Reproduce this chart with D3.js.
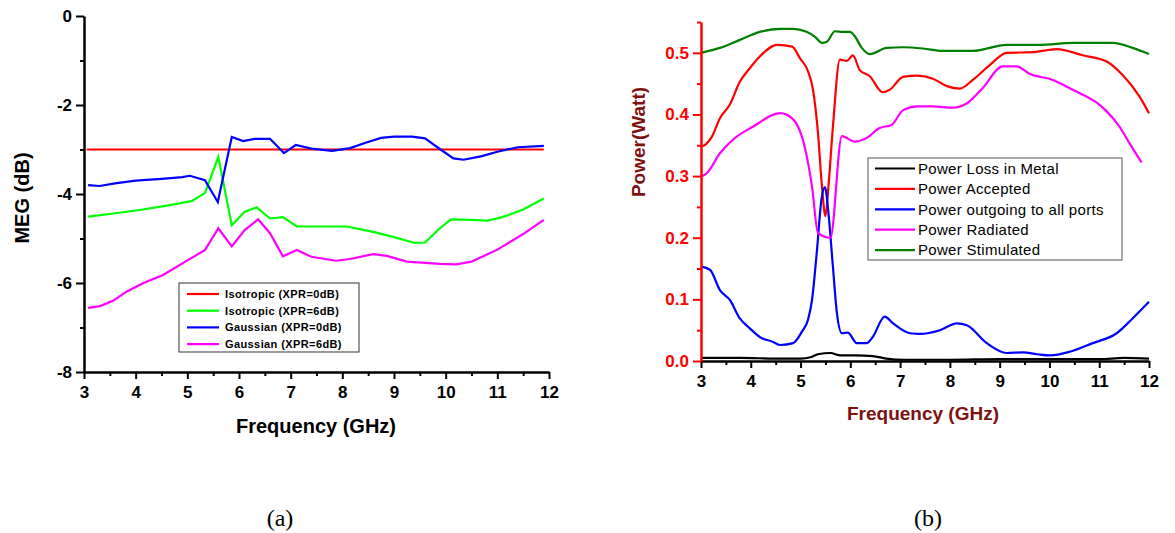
<!DOCTYPE html>
<html>
<head>
<meta charset="utf-8">
<script src="https://cdn.jsdelivr.net/npm/d3@7"></script>
<style>
  body { margin: 0; background: #fff; }
  svg { display: block; }
  text { font-family: "Liberation Sans", Arial, sans-serif; }
</style>
</head>
<body>
<svg width="1175" height="533"></svg>
<script>
// ---- panel (a): MEG ----
var freqIso0 = [3.05, 11.9];
var megIso0 = [-3, -3];

var freqIso6 = [3.08, 3.5, 4.08, 4.66, 5.08, 5.34, 5.6, 5.86, 6.11, 6.34, 6.6, 6.85, 7.12, 7.6, 8.08, 8.6, 9.0, 9.4, 9.6, 9.89, 10.1, 10.5, 10.8, 11.1, 11.5, 11.9];
var megIso6 = [-4.51, -4.45, -4.36, -4.25, -4.16, -3.98, -3.17, -4.7, -4.4, -4.3, -4.55, -4.52, -4.73, -4.73, -4.73, -4.85, -4.97, -5.1, -5.09, -4.77, -4.57, -4.58, -4.6, -4.52, -4.35, -4.1];

var freqGau0 = [3.08, 3.3, 3.6, 4.0, 4.5, 4.9, 5.05, 5.34, 5.59, 5.86, 6.08, 6.3, 6.6, 6.87, 7.1, 7.4, 7.8, 8.15, 8.45, 8.75, 9.0, 9.35, 9.6, 9.9, 10.15, 10.35, 10.7, 11.0, 11.4, 11.9];
var megGau0 = [-3.8, -3.82, -3.76, -3.7, -3.66, -3.62, -3.59, -3.69, -4.18, -2.72, -2.81, -2.76, -2.76, -3.08, -2.9, -2.98, -3.03, -2.97, -2.85, -2.74, -2.71, -2.71, -2.75, -3.0, -3.2, -3.23, -3.15, -3.05, -2.95, -2.92];

var freqGau6 = [3.08, 3.31, 3.56, 3.83, 4.15, 4.53, 4.96, 5.34, 5.6, 5.86, 6.11, 6.37, 6.6, 6.85, 7.12, 7.4, 7.88, 8.15, 8.6, 8.86, 9.25, 9.89, 10.2, 10.5, 11.0, 11.5, 11.9];
var megGau6 = [-6.56, -6.52, -6.4, -6.19, -6.0, -5.82, -5.52, -5.26, -4.77, -5.18, -4.81, -4.57, -4.88, -5.4, -5.26, -5.41, -5.5, -5.46, -5.35, -5.39, -5.52, -5.57, -5.58, -5.52, -5.25, -4.9, -4.58];

var legendA = ["Isotropic (XPR=0dB)", "Isotropic (XPR=6dB)", "Gaussian (XPR=0dB)", "Gaussian (XPR=6dB)"];
var colorsA = ["#ff0000", "#00ff00", "#0000ff", "#ff00ff"];
var yTicksA = [0, -2, -4, -6, -8];

// ---- panel (b): power ----
var freqLoss = [3.0, 3.8, 4.5, 5.0, 5.2, 5.35, 5.6, 5.8, 6.1, 6.45, 6.72, 7.1, 8.0, 9.0, 10.0, 11.0, 11.5, 12.0];
var powLoss = [0.005, 0.005, 0.004, 0.004, 0.006, 0.011, 0.013, 0.009, 0.009, 0.008, 0.004, 0.002, 0.002, 0.003, 0.003, 0.003, 0.005, 0.004];

var freqAcc = [3.0, 3.1, 3.22, 3.38, 3.58, 3.78, 3.98, 4.18, 4.53, 4.83, 4.99, 5.15, 5.25, 5.35, 5.43, 5.5, 5.56, 5.65, 5.79, 5.93, 6.05, 6.19, 6.39, 6.65, 6.79, 7.06, 7.34, 7.66, 7.94, 8.2, 8.46, 8.8, 9.14, 9.67, 10.15, 10.67, 11.15, 11.47, 11.81, 12.0];
var powAcc = [0.348, 0.352, 0.364, 0.394, 0.416, 0.453, 0.475, 0.494, 0.513, 0.510, 0.491, 0.470, 0.440, 0.370, 0.283, 0.235, 0.283, 0.38, 0.489, 0.487, 0.496, 0.472, 0.462, 0.436, 0.440, 0.461, 0.463, 0.458, 0.446, 0.442, 0.456, 0.480, 0.500, 0.501, 0.506, 0.496, 0.486, 0.464, 0.429, 0.402];

var freqOut = [3.0, 3.18, 3.38, 3.58, 3.78, 3.98, 4.18, 4.45, 4.59, 4.85, 5.03, 5.15, 5.23, 5.33, 5.42, 5.49, 5.56, 5.65, 5.73, 5.83, 5.95, 6.13, 6.33, 6.45, 6.69, 6.86, 7.2, 7.4, 7.8, 8.14, 8.34, 8.74, 9.14, 9.47, 9.75, 10.01, 10.41, 10.87, 11.35, 11.67, 12.0];
var powOut = [0.153, 0.148, 0.115, 0.099, 0.069, 0.053, 0.039, 0.031, 0.026, 0.029, 0.048, 0.067, 0.099, 0.180, 0.262, 0.282, 0.24, 0.153, 0.078, 0.045, 0.046, 0.029, 0.029, 0.039, 0.072, 0.061, 0.045, 0.044, 0.050, 0.061, 0.058, 0.029, 0.013, 0.014, 0.011, 0.009, 0.015, 0.029, 0.045, 0.069, 0.096];

var freqRad = [3.0, 3.12, 3.38, 3.64, 4.04, 4.59, 4.85, 5.09, 5.23, 5.35, 5.6, 5.83, 6.09, 6.33, 6.59, 6.83, 7.06, 7.34, 7.66, 8.06, 8.36, 8.66, 9.06, 9.34, 9.6, 10.07, 10.47, 10.95, 11.15, 11.41, 11.61, 11.85];
var powRad = [0.299, 0.305, 0.337, 0.359, 0.380, 0.402, 0.392, 0.345, 0.283, 0.208, 0.200, 0.365, 0.356, 0.362, 0.378, 0.383, 0.407, 0.413, 0.413, 0.411, 0.419, 0.443, 0.478, 0.478, 0.466, 0.456, 0.440, 0.419, 0.405, 0.380, 0.353, 0.322];

var freqStim = [3.0, 3.38, 3.78, 4.18, 4.59, 4.85, 5.12, 5.29, 5.43, 5.53, 5.69, 5.85, 5.99, 6.09, 6.23, 6.39, 6.73, 7.06, 7.46, 7.86, 8.46, 9.14, 9.81, 10.47, 11.27, 11.67, 12.0];
var powStim = [0.500, 0.508, 0.521, 0.534, 0.539, 0.539, 0.534, 0.526, 0.516, 0.518, 0.535, 0.534, 0.534, 0.527, 0.508, 0.498, 0.508, 0.509, 0.507, 0.503, 0.503, 0.513, 0.513, 0.516, 0.516, 0.508, 0.498];

var legendB = ["Power Loss in Metal", "Power Accepted", "Power outgoing to all ports", "Power Radiated", "Power Stimulated"];
var colorsB = ["#000000", "#ff0000", "#0000ff", "#ff00ff", "#008000"];
var yTicksB = [0, 0.1, 0.2, 0.3, 0.4, 0.5];

var freqTicks = [3, 4, 5, 6, 7, 8, 9, 10, 11, 12];

var svg = d3.select("svg");

function zip(xs, ys) {
  return xs.map(function(x, i) { return [x, ys[i]]; });
}

// plain hyphen instead of the unicode minus d3 uses
var intFmt = function(d) { return String(d); };

// draw a pair of axes with major + minor ticks
function drawAxes(g, x, y, yTicks, yMinor, yFmt, yColor, fontSize) {
  var xMinor = d3.range(3.5, 12, 1);
  var h = y.range()[0];
  var left = x.range()[0];

  // minor ticks first
  g.append("g").attr("transform", "translate(0," + h + ")")
    .call(d3.axisBottom(x).tickValues(xMinor).tickSize(4).tickSizeOuter(0).tickFormat(""))
    .call(function(a) { a.select(".domain").remove(); a.selectAll("line").attr("stroke", "#000").attr("stroke-width", 2); });
  g.append("g").attr("transform", "translate(" + left + ",0)")
    .call(d3.axisLeft(y).tickValues(yMinor).tickSize(4).tickSizeOuter(0).tickFormat(""))
    .call(function(a) { a.select(".domain").remove(); a.selectAll("line").attr("stroke", yColor).attr("stroke-width", 2); });

  var xa = g.append("g").attr("transform", "translate(0," + h + ")")
    .call(d3.axisBottom(x).tickValues(freqTicks).tickSize(7).tickSizeOuter(0).tickPadding(7).tickFormat(intFmt));
  xa.select(".domain").attr("stroke", "#000").attr("stroke-width", 2.5);
  xa.selectAll("line").attr("stroke", "#000").attr("stroke-width", 2);
  xa.selectAll("text").attr("fill", "#000").style("font-size", fontSize + "px").style("font-weight", "bold");

  var ya = g.append("g").attr("transform", "translate(" + left + ",0)")
    .call(d3.axisLeft(y).tickValues(yTicks).tickSize(8).tickSizeOuter(0).tickPadding(4).tickFormat(yFmt));
  ya.select(".domain").attr("stroke", yColor).attr("stroke-width", 2.5);
  ya.selectAll("line").attr("stroke", yColor).attr("stroke-width", 2);
  ya.selectAll("text").attr("fill", yColor).style("font-size", fontSize + "px").style("font-weight", "bold");
}

// ================= panel (a) =================
var xA = d3.scaleLinear().domain([3, 12]).range([84, 549]);
var yA = d3.scaleLinear().domain([-8, 0]).range([372, 16]);
var gA = svg.append("g");

var lineA = d3.line()
  .x(function(d) { return xA(d[0]); })
  .y(function(d) { return yA(d[1]); });

var seriesA = [zip(freqIso0, megIso0), zip(freqIso6, megIso6), zip(freqGau0, megGau0), zip(freqGau6, megGau6)];
gA.selectAll(".lineA")
  .data(seriesA)
  .enter().append("path")
  .attr("class", "lineA")
  .attr("fill", "none")
  .attr("stroke-width", 2.2)
  .attr("stroke", function(d, i) { return colorsA[i]; })
  .attr("d", lineA);

drawAxes(gA, xA, yA, yTicksA, [-1, -3, -5, -7], intFmt, "#000", 17);

gA.append("text")
  .attr("x", 316).attr("y", 433)
  .attr("text-anchor", "middle")
  .style("font-size", "20px").style("font-weight", "bold")
  .text("Frequency (GHz)");

gA.append("text")
  .attr("transform", "translate(29,198) rotate(-90)")
  .attr("text-anchor", "middle")
  .style("font-size", "20px").style("font-weight", "bold")
  .text("MEG (dB)");

// legend (a)
gA.append("rect")
  .attr("x", 179).attr("y", 283).attr("width", 180).attr("height", 69)
  .attr("fill", "#fff").attr("stroke", "#333").attr("stroke-width", 1);
var legA = gA.selectAll(".legA")
  .data(legendA)
  .enter().append("g")
  .attr("class", "legA")
  .attr("transform", function(d, i) { return "translate(187," + (294 + i * 16.7) + ")"; });
legA.append("line")
  .attr("x1", 0).attr("x2", 32)
  .attr("stroke-width", 2.2)
  .attr("stroke", function(d, i) { return colorsA[i]; });
legA.append("text")
  .attr("x", 38).attr("dy", "0.35em")
  .style("font-size", "11px").style("font-weight", "bold").style("letter-spacing", "0.4px")
  .text(function(d) { return d; });

// ================= panel (b) =================
var xB = d3.scaleLinear().domain([3, 12]).range([701, 1149]);
var yB = d3.scaleLinear().domain([0, 0.55]).range([361, 22]);
var gB = svg.append("g");

var lineB = d3.line()
  .curve(d3.curveMonotoneX)
  .x(function(d) { return xB(d[0]); })
  .y(function(d) { return yB(d[1]); });

var seriesB = [zip(freqLoss, powLoss), zip(freqAcc, powAcc), zip(freqOut, powOut), zip(freqRad, powRad), zip(freqStim, powStim)];
gB.selectAll(".lineB")
  .data(seriesB)
  .enter().append("path")
  .attr("class", "lineB")
  .attr("fill", "none")
  .attr("stroke-width", 2.2)
  .attr("stroke", function(d, i) { return colorsB[i]; })
  .attr("d", lineB);

drawAxes(gB, xB, yB, yTicksB, [0.05, 0.15, 0.25, 0.35, 0.45, 0.55], d3.format(".1f"), "#ff0000", 17);

gB.append("text")
  .attr("x", 923).attr("y", 420)
  .attr("text-anchor", "middle")
  .attr("fill", "#7f1010")
  .style("font-size", "19px").style("font-weight", "bold")
  .text("Frequency (GHz)");

gB.append("text")
  .attr("transform", "translate(645,142) rotate(-90)")
  .attr("text-anchor", "middle")
  .attr("fill", "#7f1010")
  .style("font-size", "19px").style("font-weight", "bold")
  .text("Power(Watt)");

// legend (b)
gB.append("rect")
  .attr("x", 868).attr("y", 158).attr("width", 254).attr("height", 102)
  .attr("fill", "#fff").attr("stroke", "#555").attr("stroke-width", 1);
var legB = gB.selectAll(".legB")
  .data(legendB)
  .enter().append("g")
  .attr("class", "legB")
  .attr("transform", function(d, i) { return "translate(875," + (168.5 + i * 20.4) + ")"; });
legB.append("line")
  .attr("x1", 0).attr("x2", 40)
  .attr("stroke-width", 2.2)
  .attr("stroke", function(d, i) { return colorsB[i]; });
legB.append("text")
  .attr("x", 43).attr("dy", "0.35em")
  .style("font-size", "15px").style("letter-spacing", "0.3px")
  .text(function(d) { return d; });

// captions
svg.append("text").attr("x", 280).attr("y", 526).attr("text-anchor", "middle")
  .style("font-family", "'Liberation Serif', 'Times New Roman', serif").style("font-size", "24px")
  .text("(a)");
svg.append("text").attr("x", 928).attr("y", 526).attr("text-anchor", "middle")
  .style("font-family", "'Liberation Serif', 'Times New Roman', serif").style("font-size", "24px")
  .text("(b)");
</script>
</body>
</html>
